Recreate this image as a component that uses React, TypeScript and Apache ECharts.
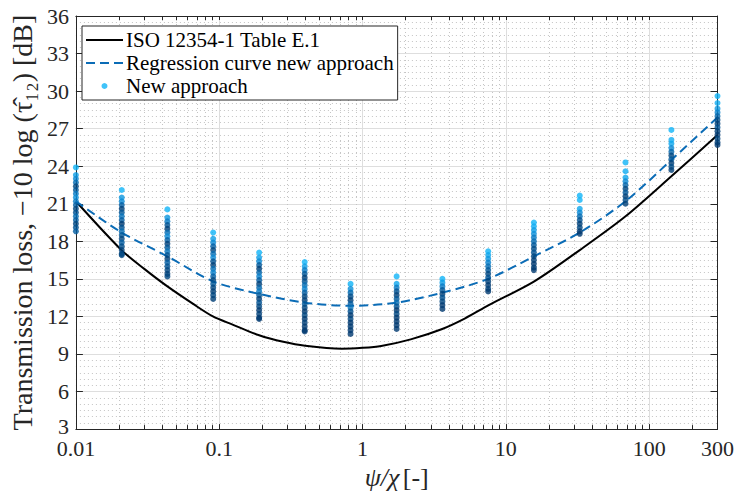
import React, { useEffect, useRef } from 'react';
import * as echarts from 'echarts';

// x positions of the scatter columns (psi/chi)
const colX = [0.01, 0.0209, 0.0435, 0.0908, 0.19, 0.395, 0.825, 1.73, 3.61, 7.53, 15.7, 32.8, 68.4, 143, 300];

// each column: [transmission loss, shade(0 dark .. 1 light)]
const col0 = [[23.9,1],[23.3,0.85],[23.0,0.7],[22.7,0.5],[22.4,0.2],[22.1,0.35],[21.8,0.6],[21.5,0.75],[21.2,0.6],[20.9,0.4],[20.6,0.2],[20.3,0.3],[20.0,0.5],[19.7,0.4],[19.4,0.2],[19.1,0.3],[18.8,0.4]];
const col1 = [[22.1,1],[21.5,0.8],[21.2,0.7],[20.9,0.4],[20.6,0.15],[20.3,0.35],[20.0,0.55],[19.7,0.4],[19.4,0.1],[19.1,0.3],[18.8,0.5],[18.5,0.35],[18.2,0.2],[17.9,0.4],[17.6,0.25],[17.3,0.15],[17.0,0.2],[16.9,0.2]];
const col2 = [[20.55,1],[19.9,0.8],[19.6,0.6],[19.3,0.3],[19.0,0.15],[18.7,0.5],[18.4,0.7],[18.1,0.4],[17.8,0.15],[17.5,0.35],[17.2,0.55],[16.9,0.3],[16.6,0.15],[16.3,0.4],[16.0,0.3],[15.7,0.2],[15.4,0.15],[15.2,0.2]];
const col3 = [[18.7,1],[18.2,0.85],[17.9,0.7],[17.6,0.4],[17.3,0.2],[17.0,0.5],[16.7,0.7],[16.4,0.3],[16.1,0.15],[15.8,0.5],[15.5,0.65],[15.2,0.4],[14.9,0.2],[14.6,0.35],[14.3,0.2],[14.0,0.15],[13.7,0.2],[13.4,0.15]];
const col4 = [[17.1,1],[16.7,0.85],[16.4,0.7],[16.1,0.35],[15.8,0.15],[15.5,0.45],[15.2,0.65],[14.9,0.4],[14.6,0.15],[14.3,0.45],[14.0,0.6],[13.7,0.35],[13.4,0.15],[13.1,0.3],[12.8,0.2],[12.5,0.1],[12.2,0.15],[11.9,0.1],[11.8,0.1]];
const col5 = [[16.35,1],[16.0,0.85],[15.7,0.6],[15.4,0.35],[15.1,0.15],[14.8,0.3],[14.5,0.5],[14.2,0.65],[13.9,0.4],[13.6,0.2],[13.3,0.15],[13.0,0.35],[12.7,0.2],[12.4,0.1],[12.1,0.2],[11.8,0.1],[11.5,0.15],[11.2,0.1],[10.9,0.1],[10.8,0.1]];
const col6 = [[14.6,1],[14.2,0.75],[13.9,0.5],[13.6,0.25],[13.3,0.15],[13.0,0.4],[12.7,0.55],[12.4,0.3],[12.1,0.1],[11.8,0.2],[11.5,0.1],[11.2,0.1],[10.9,0.1],[10.6,0.1]];
const col7 = [[15.2,1],[14.6,0.9],[14.3,0.6],[14.0,0.3],[13.7,0.15],[13.4,0.35],[13.1,0.5],[12.8,0.3],[12.5,0.1],[12.2,0.2],[11.9,0.1],[11.6,0.1],[11.3,0.1],[11.0,0.1]];
const col8 = [[15.0,1],[14.7,0.85],[14.4,0.6],[14.1,0.35],[13.8,0.15],[13.5,0.3],[13.2,0.2],[12.9,0.1],[12.6,0.1]];
const col9 = [[17.2,1],[16.9,0.9],[16.6,0.8],[16.3,0.65],[16.0,0.5],[15.7,0.35],[15.4,0.2],[15.1,0.3],[14.8,0.15],[14.5,0.1],[14.2,0.15],[14.0,0.1]];
const col10 = [[19.5,1],[19.2,0.95],[18.9,0.85],[18.6,0.75],[18.3,0.6],[18.0,0.5],[17.7,0.35],[17.4,0.25],[17.1,0.3],[16.8,0.2],[16.5,0.15],[16.2,0.1],[15.9,0.15],[15.7,0.1]];
const col11 = [[21.65,1],[21.3,1],[20.6,0.9],[20.3,0.7],[20.0,0.5],[19.7,0.3],[19.4,0.15],[19.1,0.2],[18.8,0.1],[18.6,0.1]];
const col12 = [[24.3,1],[23.6,0.95],[23.1,0.9],[22.8,0.7],[22.5,0.45],[22.2,0.2],[21.9,0.35],[21.6,0.15],[21.3,0.25],[21.0,0.15]];
const col13 = [[26.9,1],[26.1,0.95],[25.8,0.9],[25.45,0.7],[25.15,0.45],[24.85,0.2],[24.55,0.35],[24.25,0.15],[23.95,0.25],[23.7,0.15]];
const col14 = [[29.6,1],[29.05,0.95],[28.6,0.8],[28.3,0.65],[28.0,0.45],[27.7,0.25],[27.4,0.15],[27.1,0.3],[26.8,0.15],[26.5,0.1],[26.2,0.2],[25.9,0.15],[25.7,0.1]];
const columns = [col0, col1, col2, col3, col4, col5, col6, col7, col8, col9, col10, col11, col12, col13, col14];

// ISO 12354-1 Table E.1 curve
const isoX = [0.01, 0.0208, 0.03, 0.0435, 0.0658, 0.0904, 0.124, 0.19, 0.28, 0.398, 0.716, 1.0, 1.35, 2.17, 3.6, 5.2, 7.6, 15.8, 32.8, 68.5, 143, 300];
const isoY = [21.2, 17.3, 15.8, 14.4, 13.0, 12.0, 11.35, 10.5, 9.97, 9.65, 9.42, 9.49, 9.64, 10.17, 11.0, 11.85, 12.9, 14.8, 17.3, 20.0, 23.2, 26.5];

// regression curve new approach
const regX = [0.01, 0.0209, 0.0435, 0.0908, 0.19, 0.395, 0.825, 1.73, 3.61, 7.53, 15.7, 32.8, 68.4, 143, 300];
const regY = [21.2, 18.7, 16.8, 14.8, 13.8, 13.1, 12.85, 13.1, 13.9, 15.0, 16.8, 18.7, 21.2, 24.5, 27.9];

const xLabelValues = [0.01, 0.1, 1, 10, 100, 300];
const xMajor = [0.01, 0.1, 1, 10, 100];
const xMinor = [0.02,0.03,0.04,0.05,0.06,0.07,0.08,0.09,0.2,0.3,0.4,0.5,0.6,0.7,0.8,0.9,2,3,4,5,6,7,8,9,20,30,40,50,60,70,80,90,200];

const FONT = 'Liberation Serif';
const AX = '#262626';

export default function App() {
  const ref = useRef<HTMLDivElement>(null);
  useEffect(() => {
    if (!ref.current) return;
    const chart = echarts.init(ref.current, null, { renderer: 'svg' });
    const scatterData: number[][] = [];
    columns.forEach((col, i) => col.forEach(p => scatterData.push([colX[i], p[0], p[1]])));
    const fmt = (v: number) => String(Number(Number(v).toPrecision(3)));
    const yFmt = (v: number) => (v === 3 ? '{m|3}' : String(v));
    const baseLog = { type: 'log', logBase: 10, min: 0.01, max: 300 };
    const hiddenSym = { color: 'rgba(0,0,0,0)', borderWidth: 0, opacity: 0 };
    const option: any = {
      animation: false,
      backgroundColor: '#fff',
      grid: { left: 71.7, right: 17.7, top: 16, bottom: 65, containLabel: false },
      legend: {
        left: 82, top: 26, orient: 'vertical',
        backgroundColor: '#fff', borderColor: AX, borderWidth: 1,
        padding: [3, 4, 3, 3], itemGap: 1, itemWidth: 37, itemHeight: 6,
        textStyle: { fontFamily: FONT, fontSize: 21, color: '#000', lineHeight: 22, padding: [0, 0, 0, -2] },
        data: [
          { name: 'ISO 12354-1 Table E.1', itemStyle: hiddenSym },
          { name: 'Regression curve new approach', itemStyle: hiddenSym },
          { name: 'New approach' },
        ],
      },
      visualMap: {
        type: 'continuous', show: false, seriesIndex: 2, dimension: 2, min: 0, max: 1,
        inRange: { color: ['#002f5f', '#005596', '#0a84d0', '#10b4f8'] },
      },
      xAxis: [
        {
          ...baseLog, position: 'bottom',
          axisLine: { show: true, lineStyle: { color: AX, width: 1 } },
          axisTick: { show: true, inside: true, length: 5, customValues: xMajor, lineStyle: { color: AX } },
          axisLabel: { customValues: xLabelValues, formatter: fmt, fontFamily: FONT, fontSize: 22, lineHeight: 18, color: AX, margin: 10 },
          splitLine: { show: true, lineStyle: { color: '#dedede', width: 1 } },
          name: '{i|ψ/χ} {n|[-]}', nameLocation: 'middle', nameGap: 29,
          nameTextStyle: {
            rich: {
              i: { fontFamily: FONT, fontSize: 26, fontStyle: 'italic', color: AX },
              n: { fontFamily: FONT, fontSize: 26, color: AX },
            },
          },
        },
        {
          ...baseLog, position: 'bottom',
          axisLine: { show: false },
          axisTick: { show: true, inside: true, length: 4, customValues: xMinor, lineStyle: { color: AX } },
          axisLabel: { show: false },
          splitLine: { show: true, lineStyle: { color: '#c4c4c4', width: 1, type: [1, 3] } },
        },
        {
          ...baseLog, position: 'top',
          axisLine: { show: true, lineStyle: { color: AX, width: 1 } },
          axisTick: { show: true, inside: true, length: 4, customValues: [...xMajor, ...xMinor], lineStyle: { color: AX } },
          axisLabel: { show: false },
          splitLine: { show: false },
        },
      ],
      yAxis: [
        {
          type: 'value', min: 3, max: 36, interval: 3, position: 'left',
          axisLine: { show: true, lineStyle: { color: AX, width: 1 } },
          axisTick: { show: true, inside: true, length: 7, lineStyle: { color: AX } },
          axisLabel: {
            formatter: yFmt, fontFamily: FONT, fontSize: 22, lineHeight: 18, color: AX, margin: 7,
            rich: { m: { fontFamily: FONT, fontSize: 22, lineHeight: 18, color: AX, padding: [0, 0, 6, 0] } },
          },
          splitLine: { show: true, lineStyle: { color: '#dedede', width: 1 } },
          minorTick: { show: false, splitNumber: 6 },
          minorSplitLine: { show: true, lineStyle: { color: '#c4c4c4', width: 1, type: [1, 3] } },
          name: 'Transmission loss, −10 log (τ̂₁₂) [dB]',
          nameLocation: 'middle', nameRotate: 90, nameGap: 29,
          nameTextStyle: { fontFamily: FONT, fontSize: 28, color: AX },
        },
        {
          type: 'value', min: 3, max: 36, interval: 3, position: 'right',
          axisLine: { show: true, lineStyle: { color: AX, width: 1 } },
          axisTick: { show: true, inside: true, length: 7, lineStyle: { color: AX } },
          axisLabel: { show: false },
          splitLine: { show: false },
        },
      ],
      series: [
        {
          name: 'ISO 12354-1 Table E.1', type: 'line', xAxisIndex: 0, yAxisIndex: 0,
          data: isoX.map((x, i) => [x, isoY[i]]), smooth: 0.3, symbol: 'none',
          lineStyle: { color: '#000', width: 2 }, itemStyle: { color: '#000' }, z: 2,
        },
        {
          name: 'Regression curve new approach', type: 'line', xAxisIndex: 0, yAxisIndex: 0,
          data: regX.map((x, i) => [x, regY[i]]), smooth: 0.3, symbol: 'none',
          lineStyle: { color: '#0b6cb6', width: 2, type: [9, 5] }, itemStyle: { color: '#0b6cb6' }, z: 3,
        },
        {
          name: 'New approach', type: 'scatter', xAxisIndex: 0, yAxisIndex: 0,
          data: scatterData, symbolSize: 6, itemStyle: { color: '#10b4f8' }, z: 4,
        },
      ],
    };
    chart.setOption(option);
    return () => chart.dispose();
  }, []);
  return <div ref={ref} style={{ position: 'absolute', left: 0, top: 0, width: 737, height: 495 }} />;
}
